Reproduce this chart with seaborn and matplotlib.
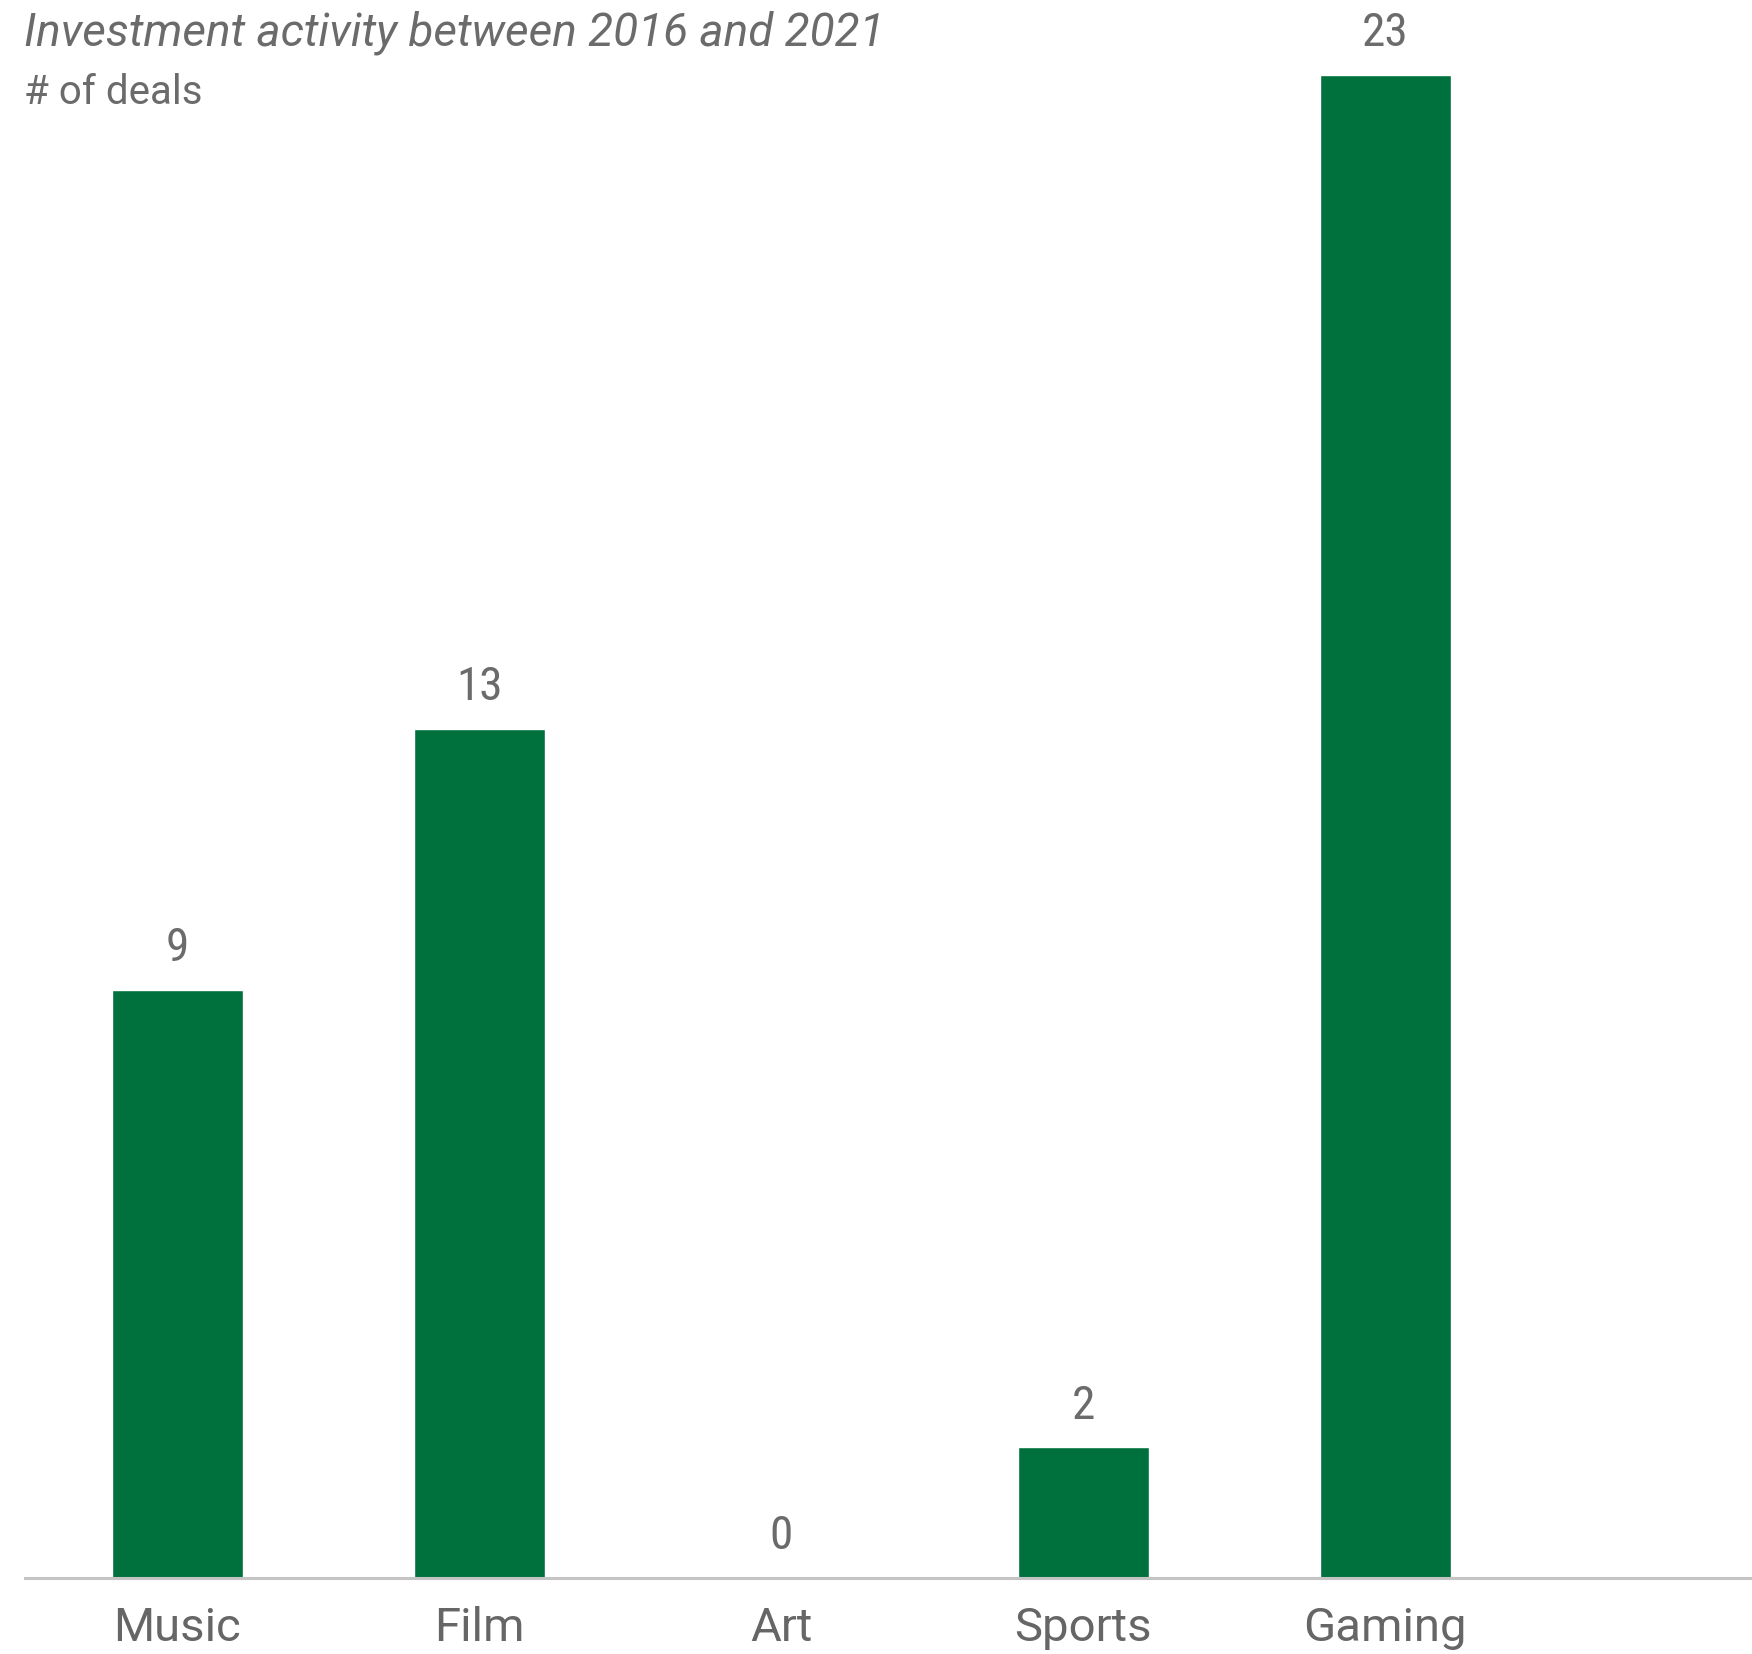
import matplotlib
matplotlib.use("Agg")
import matplotlib.pyplot as plt
import seaborn as sns
import pandas as pd
from matplotlib import font_manager as fm

categories = ["Music", "Film", "Art", "Sports", "Gaming"]
deals = [9, 13, 0, 2, 23]
title_text = "Investment activity between 2016 and 2021"
unit_text = "# of deals"

GREEN = "#00703C"
GRAY = "#6b6b6b"

names = {f.name for f in fm.fontManager.ttflist}
cond = None
for cand in ["Roboto Condensed", "Liberation Sans Narrow", "Open Sans Condensed"]:
    if cand in names:
        cond = cand
        break
label_family = [cond, "Roboto"] if cond else ["Roboto"]

sns.set_theme(style="white")
plt.rcParams["font.family"] = ["Roboto", "DejaVu Sans"]

W, H = 1752, 1654
fig = plt.figure(figsize=(W / 100, H / 100), dpi=100)
left = 25 / W
bottom = 76 / H
ax = fig.add_axes([left, bottom, 1 - left, 1 - bottom])

df = pd.DataFrame({"cat": categories, "deals": deals})
sns.barplot(data=df, x="cat", y="deals", color=GREEN, saturation=1, width=0.433, ax=ax)

ax.set_xlim(-0.505, 5.215)
ax.set_ylim(0, 24.15)

for s in ["top", "right", "left"]:
    ax.spines[s].set_visible(False)
ax.spines["bottom"].set_color("#c4c4c4")
ax.spines["bottom"].set_linewidth(2.2)
ax.set_yticks([])
ax.set_xlabel("")
ax.set_ylabel("")
ax.tick_params(axis="x", length=0, pad=20, labelsize=34, labelcolor="#666666")

for i, v in enumerate(deals):
    ax.annotate(str(v), (i, v), xytext=(0, 30), textcoords="offset points",
                ha="center", va="center", fontsize=34, color=GRAY, family=label_family)

fig.text(24 / W, 1 - 33 / H, title_text, fontsize=33, style="italic",
         color=GRAY, ha="left", va="center")
fig.text(24 / W, 1 - 92 / H, unit_text, fontsize=29, color=GRAY,
         ha="left", va="center")

fig.savefig("out.png", dpi=100)
